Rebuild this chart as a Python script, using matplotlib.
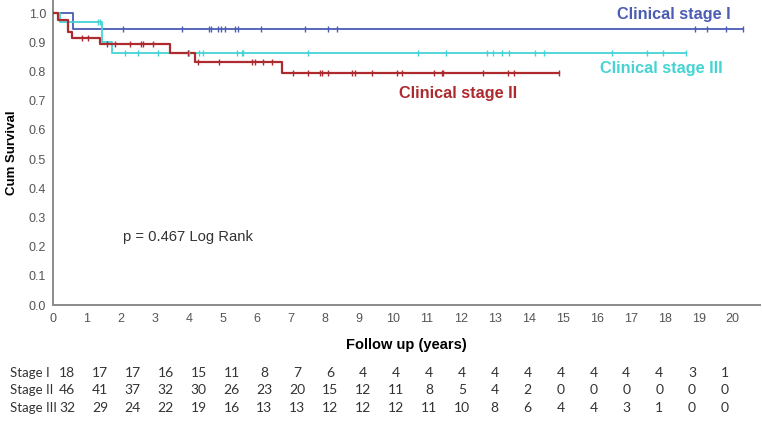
import matplotlib
matplotlib.use("Agg")
import matplotlib.pyplot as plt
import numpy as np

plt.rcParams["font.family"] = ["Liberation Sans", "DejaVu Sans"]

# Kaplan-Meier step data (time in years, survival)
s1_t = [0.0, 0.59]
s1_s = [1.0, 0.944]
s1_end = 20.29
s1_cens = [2.06, 3.79, 4.60, 4.64, 4.85, 4.95, 5.05, 5.35, 5.44, 6.12, 7.41,
           8.09, 8.35, 18.88, 19.24, 19.79, 20.29]

s2_t = [0.0, 0.15, 0.44, 0.56, 1.38, 3.44, 4.18, 6.74]
s2_s = [1.0, 0.978, 0.936, 0.914, 0.893, 0.864, 0.833, 0.794]
s2_end = 14.88
s2_cens = [0.85, 1.03, 1.59, 1.82, 2.26, 2.59, 2.65, 2.94, 3.97, 4.27, 4.88,
           5.85, 5.94, 6.18, 6.44, 7.06, 7.50, 7.85, 7.91, 8.09, 8.79, 8.88,
           9.38, 10.12, 10.26, 11.21, 11.44, 11.47, 12.65, 13.38, 13.56, 14.88]

s3_t = [0.0, 0.20, 1.43, 1.73]
s3_s = [1.0, 0.969, 0.900, 0.863]
s3_end = 18.62
s3_cens = [1.33, 1.38, 2.12, 2.50, 3.09, 3.97, 4.00, 4.29, 4.41, 5.41, 5.56,
           5.59, 7.50, 10.74, 11.56, 12.76, 12.94, 13.21, 13.41, 14.18, 14.44,
           16.44, 17.47, 17.94, 18.62]

# numbers at risk
risk_labels = ["Stage I", "Stage II", "Stage III"]
risk_s1 = [18, 17, 17, 16, 15, 11, 8, 7, 6, 4, 4, 4, 4, 4, 4, 4, 4, 4, 4, 3, 1]
risk_s2 = [46, 41, 37, 32, 30, 26, 23, 20, 15, 12, 11, 8, 5, 4, 2, 0, 0, 0, 0, 0, 0]
risk_s3 = [32, 29, 24, 22, 19, 16, 13, 13, 12, 12, 12, 11, 10, 8, 6, 4, 4, 3, 1, 0, 0]

BLUE = "#4a5db3"
RED = "#ad2a2e"
CYAN = "#45d3d3"
W, H = 762, 421

fig = plt.figure(figsize=(W / 100, H / 100), dpi=100)
ax = fig.add_axes([53 / W, (H - 305) / H, (760 - 53) / W, 305 / H])


def km(ax, t, s, end, cens, color, lw):
    tt = list(t) + [end]
    ss = list(s) + [s[-1]]
    ax.step(tt, ss, where="post", color=color, linewidth=lw, zorder=3)
    ct = np.array(cens)
    idx = np.searchsorted(t, ct, side="right") - 1
    cs = np.array(s)[idx]
    ax.plot(ct, cs, linestyle="none", marker="|", markersize=5,
            markeredgewidth=1.0, color=color, zorder=4)


km(ax, s1_t, s1_s, s1_end, s1_cens, BLUE, 1.3)
km(ax, s3_t, s3_s, s3_end, s3_cens, CYAN, 1.3)
km(ax, s2_t, s2_s, s2_end, s2_cens, RED, 1.6)

ax.set_xlim(0, 20.8)
ax.set_ylim(0, 1.045)
ax.set_xticks(np.arange(0, 21))
ax.set_yticks(np.arange(0, 1.01, 0.1))
ax.set_yticklabels([f"{v:.1f}" for v in np.arange(0, 1.01, 0.1)])
ax.tick_params(length=0, labelsize=9, labelcolor="#555555")
ax.tick_params(axis="y", pad=5)
ax.tick_params(axis="x", pad=6)
ax.spines[["top", "right"]].set_visible(False)
for sp in ["left", "bottom"]:
    ax.spines[sp].set_color("#8a8a8a")
    ax.spines[sp].set_linewidth(1.4)

ax.set_xlabel("Follow up (years)", fontsize=10.5, fontweight="bold", labelpad=9)
ax.set_ylabel("Cum Survival", fontsize=9.5, fontweight="bold", labelpad=8)

ax.text(16.6, 0.997, "Clinical stage I", color=BLUE, fontsize=11.7,
        fontweight="bold", va="center", ha="left")
ax.text(16.09, 0.812, "Clinical stage III", color=CYAN, fontsize=11.7,
        fontweight="bold", va="center", ha="left")
ax.text(10.18, 0.726, "Clinical stage II", color=RED, fontsize=11.7,
        fontweight="bold", va="center", ha="left")
ax.text(2.07, 0.234, "p = 0.467 Log Rank", color="#333333", fontsize=10.6,
        va="center", ha="left")

# risk table in its own axes: columns at integer positions, rows at 0..2
tab = fig.add_axes([0, 0, 1, 70 / H])
tab.set_xlim(-67 / 32.9, (W - 67) / 32.9)
tab.set_ylim(48 / 17.5, (48 - 70) / 17.5)
tab.axis("off")
for r, (lab, row) in enumerate(zip(risk_labels, [risk_s1, risk_s2, risk_s3])):
    tab.text(-1.72, r, lab, fontsize=9.5, family="Lato", color="#333333",
             ha="left", va="center")
    for i, n in enumerate(row):
        tab.text(i, r, str(n), fontsize=10, family="Lato", color="#333333",
                 ha="center", va="center")

fig.savefig("out.png", dpi=100)
